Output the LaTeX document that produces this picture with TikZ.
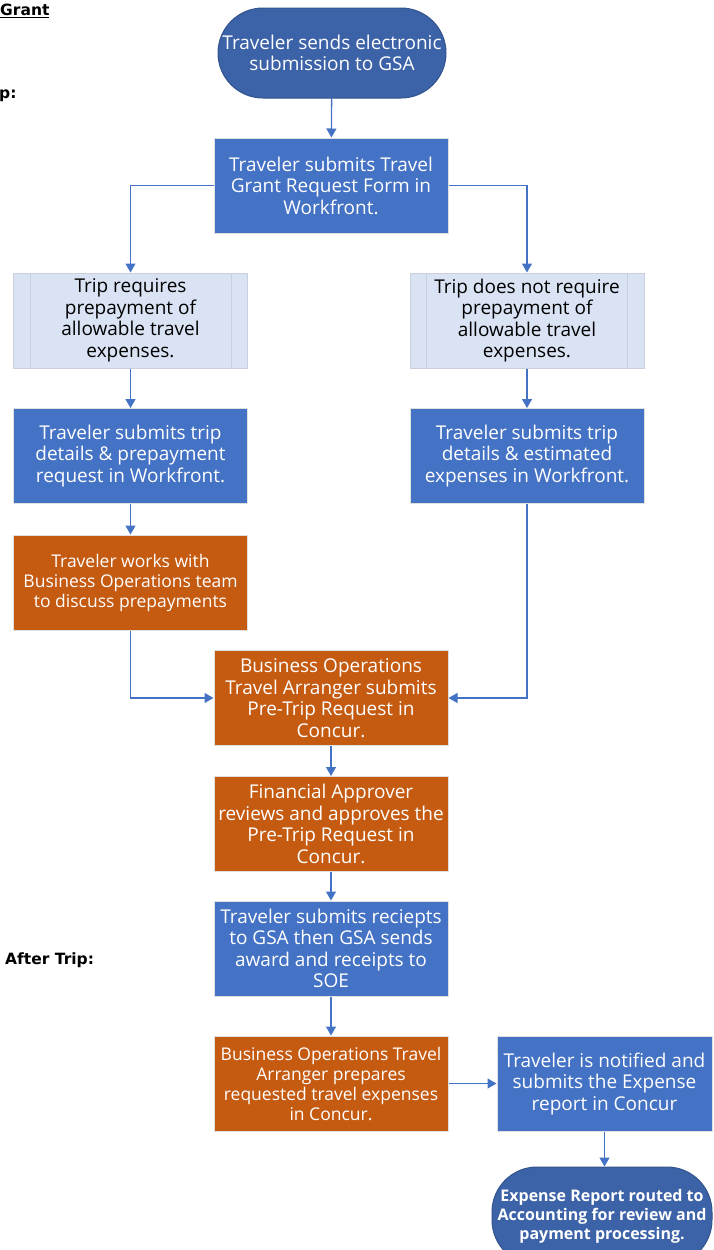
\documentclass[tikz,border=0pt]{standalone}
\usepackage{fontspec}
\setmainfont{Open Sans}
\newfontfamily\labelfont{DejaVu Sans}
\usetikzlibrary{arrows.meta,positioning}
\definecolor{termblue}{HTML}{3C62A8}
\definecolor{boxblue}{HTML}{4472C4}
\definecolor{boxorange}{HTML}{C55A11}
\definecolor{boxlight}{HTML}{DAE3F3}
\definecolor{boxedge}{HTML}{C9D0DC}
\tikzstyle{box}=[rectangle,minimum width=234pt,minimum height=95pt,inner sep=0pt,align=center,font=\fontsize{19}{21.5}\selectfont,draw=black!12,line width=1pt]
\tikzstyle{process}=[box,fill=boxblue,text=white]
\tikzstyle{action}=[box,fill=boxorange,text=white]
\tikzstyle{option}=[box,fill=boxlight,draw=boxedge,text=black]
\tikzstyle{terminal}=[box,fill=termblue,draw=termblue!85!black,text=white,rounded corners=45pt,minimum width=228pt,minimum height=90pt]
\tikzstyle{flow}=[draw=boxblue,line width=1.3pt,-{Triangle[width=10pt,length=9pt]}]
\tikzstyle{side label}=[font=\labelfont\bfseries\fontsize{15.5}{17}\selectfont,inner sep=0pt,anchor=west]

\begin{document}
\begin{tikzpicture}[x=1pt,y=-1pt]
    \useasboundingbox (0,0) rectangle (713,1250);
    % Labels at the left margin
    \node[side label] (grantlabel) at (0,11) {\underline{Grant}};
    \node[side label] (beforelabel) at (-1,96) {p:};
    \node[side label] (afterlabel) at (5,960) {After Trip:};

    % Steps of the flow
    \node[terminal] (start) at (332,53) {Traveler sends electronic\\submission to GSA};
    \node[process] (grant) at (331,185.5) {Traveler submits Travel\\Grant Request Form in\\Workfront.};
    \node[option] (preL) at (130.5,320.5) {Trip requires\\prepayment of\\allowable travel\\expenses.};
    \node[option] (preR) at (527,320.5) {Trip does not require\\prepayment of\\allowable travel\\expenses.};
    \node[process] (subL) at (130.5,456) {Traveler submits trip\\details \& prepayment\\request in Workfront.};
    \node[process] (subR) at (527,456) {Traveler submits trip\\details \& estimated\\expenses in Workfront.};
    \node[action,font=\fontsize{17.5}{20}\selectfont] (workL) at (130.5,582.5) {Traveler works with\\Business Operations team\\to discuss prepayments};
    \node[action] (arrange) at (331,698) {Business Operations\\Travel Arranger submits\\Pre-Trip Request in\\Concur.};
    \node[action] (approve) at (331,824) {Financial Approver\\reviews and approves the\\Pre-Trip Request in\\Concur.};
    \node[process] (receipts) at (331,948.5) {Traveler submits reciepts\\to GSA then GSA sends\\award and receipts to\\SOE};
    \node[action,font=\fontsize{17.5}{20}\selectfont] (prepare) at (331,1083.5) {Business Operations Travel\\Arranger prepares\\requested travel expenses\\in Concur.};
    \node[process,minimum width=215pt] (notified) at (604.5,1083.5) {Traveler is notified and\\submits the Expense\\report in Concur};
    \node[terminal,minimum width=220pt,minimum height=98pt,font=\bfseries\fontsize{16}{19}\selectfont] (finish) at (602,1216) {Expense Report routed to\\Accounting for review and\\payment processing.};

    % Side bars of the predefined process boxes
    \foreach \name in {preL, preR}
    {
        \draw[boxedge,line width=1pt] ([xshift=17pt]\name.north west) -- ([xshift=17pt]\name.south west);
        \draw[boxedge,line width=1pt] ([xshift=-17pt]\name.north east) -- ([xshift=-17pt]\name.south east);
    }

    % Connect the steps
    \foreach \source/\dest in {start/grant, preL/subL, preR/subR, subL/workL, arrange/approve, approve/receipts, receipts/prepare, prepare/notified}
        \path[flow] (\source) -- (\dest);
    \path[flow] (grant.west) -| (preL.north);
    \path[flow] (grant.east) -| (preR.north);
    \path[flow] (workL.south) |- (arrange.west);
    \path[flow] (subR.south) |- (arrange.east);
    \path[flow] (notified.south) -- (notified.south |- finish.north);
\end{tikzpicture}
\end{document}
